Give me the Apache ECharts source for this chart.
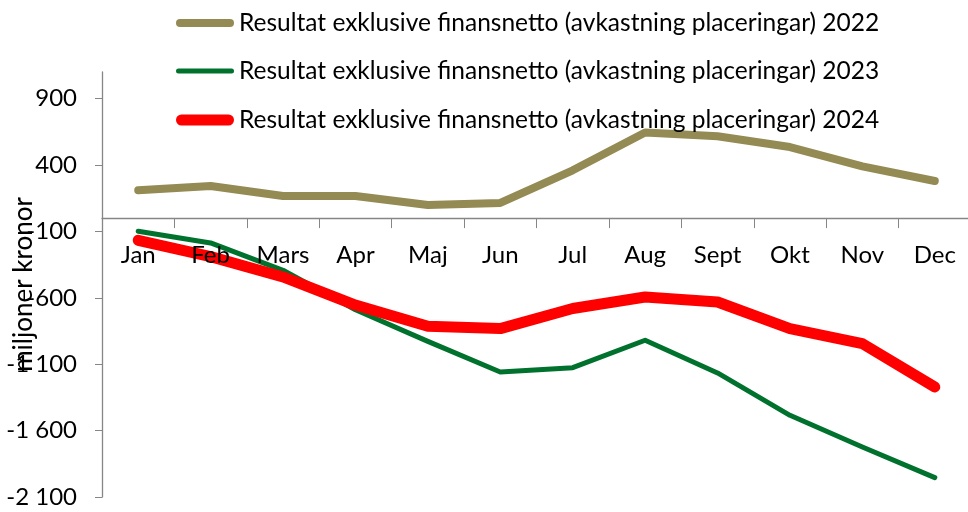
<!DOCTYPE html>
<html>
<head>
<meta charset="utf-8">
<script src="https://cdn.jsdelivr.net/npm/echarts@6/dist/echarts.min.js"></script>
<style>
  html, body { margin: 0; padding: 0; background: #fff; }
  #main { width: 968px; height: 512px; }
</style>
</head>
<body>
<div id="main"></div>
<script>
// data (miljoner kronor)
var months = ["Jan", "Feb", "Mars", "Apr", "Maj", "Jun", "Jul", "Aug", "Sept", "Okt", "Nov", "Dec"];
var res2022 = [210, 242, 166, 166, 99, 114, 360, 644, 616, 535, 390, 279];
var res2023 = [-99, -187, -393, -690, -928, -1159, -1126, -920, -1166, -1485, -1724, -1954];
var res2024 = [-167, -290, -443, -655, -815, -832, -681, -594, -632, -832, -945, -1272];
var seriesNames = [
  "Resultat exklusive finansnetto (avkastning placeringar) 2022",
  "Resultat exklusive finansnetto (avkastning placeringar) 2023",
  "Resultat exklusive finansnetto (avkastning placeringar) 2024"
];
var colors = ["#948A54", "#00722E", "#FF0000"];
var widths = [8, 5, 11];

var yMin = -2100, yMax = 1100;
var gridTop = 72, gridBottom = 15, H = 512;
var font = "Lato";

function fmt(v) {
  var s = String(Math.abs(v)).replace(/\B(?=(\d{3})+(?!\d))/g, " ");
  return (v < 0 ? "-" : "") + s;
}

// x axis sits on the zero line, labels included
var plotH = H - gridTop - gridBottom;
var zeroOffset = -plotH * (0 - yMin) / (yMax - yMin);

var legendCenters = [18, 66, 115];
var legends = seriesNames.map(function (n, i) {
  var w = widths[i], r = w / 2;
  return {
    left: 171,
    top: legendCenters[i] - 14,
    itemWidth: 58,
    itemHeight: w,
    icon: "path://M" + r + ",0 H" + (58 - r) + " A" + r + "," + r + " 0 0 1 " + (58 - r) + "," + w +
          " H" + r + " A" + r + "," + r + " 0 0 1 " + r + ",0 Z",
    itemStyle: { borderWidth: 0 },
    lineStyle: { width: 0 },
    textStyle: { fontFamily: font, fontSize: 24.5, lineHeight: 28, color: "#000" },
    selectedMode: false,
    data: [n]
  };
});

var myChart = echarts.init(document.getElementById("main"));

var option = {
  animation: false,
  textStyle: { fontFamily: font, color: "#000" },
  legend: legends,
  grid: { left: 102, right: -3, top: gridTop, bottom: gridBottom, containLabel: false, outerBoundsMode: "none" },
  xAxis: {
    type: "category",
    data: months,
    z: 5, // month labels drawn over the lines
    offset: zeroOffset,
    axisLine: { onZero: false, lineStyle: { color: "#868686", width: 1.3 } },
    axisTick: { show: true, length: 10, lineStyle: { color: "#868686" } },
    axisLabel: { fontFamily: font, fontSize: 24, color: "#000", margin: 25 }
  },
  yAxis: {
    type: "value",
    min: yMin,
    max: yMax,
    interval: 500,
    name: "miljoner kronor",
    nameLocation: "middle",
    nameRotate: 90,
    nameGap: 65,
    nameMoveOverlap: false,
    nameTextStyle: { fontFamily: font, fontSize: 26, color: "#000" },
    splitLine: { show: false },
    axisLine: { show: true, lineStyle: { color: "#868686", width: 1.3 } },
    axisTick: { show: true, length: 7, lineStyle: { color: "#868686" } },
    axisLabel: {
      fontFamily: font, fontSize: 24, color: "#000", margin: 25,
      showMaxLabel: false,
      formatter: function (v) { return v > 1000 ? "" : fmt(v); }
    }
  },
  series: seriesNames.map(function (n, i) {
    return {
      name: n, type: "line", data: [res2022, res2023, res2024][i], symbol: "none",
      lineStyle: { color: colors[i], width: widths[i], cap: "round", join: "round" },
      itemStyle: { color: colors[i] }
    };
  })
};

myChart.setOption(option, true);
</script>
</body>
</html>
